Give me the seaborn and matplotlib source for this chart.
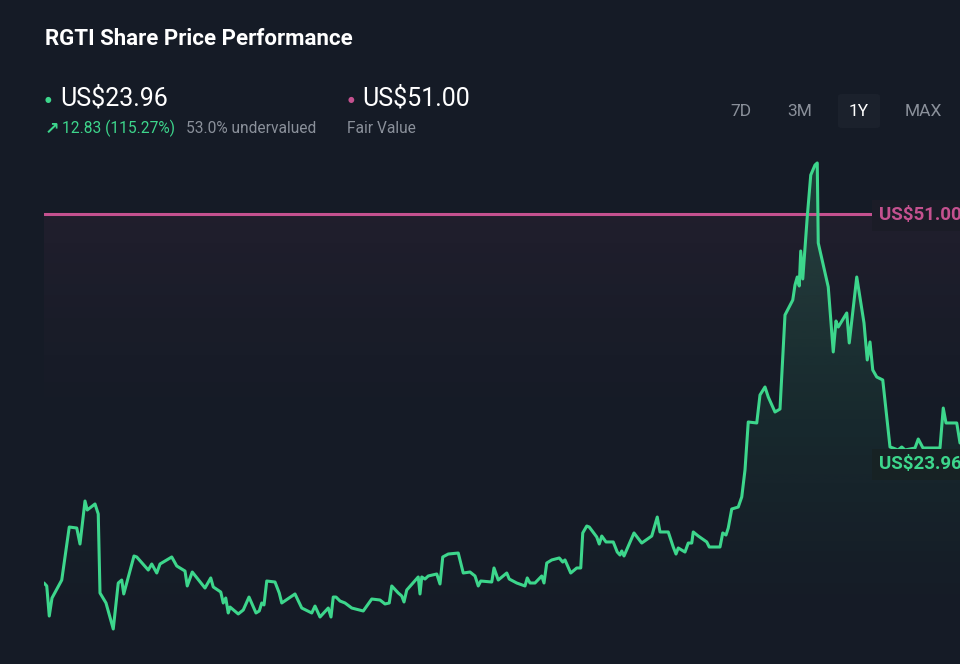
import numpy as np
import pandas as pd
import matplotlib
matplotlib.use("Agg")
import matplotlib.pyplot as plt
from matplotlib.patches import FancyBboxPatch
import seaborn as sns

# ---------------- data ----------------
day = [0, 1.1, 2.1, 3.2, 7.1, 10.1, 13.1, 14.4, 16.4, 17.3, 20.4, 21.7, 22.4, 24.8, 27.7,
       29.7, 31.1, 31.9, 36.0, 37.1, 41.7, 43.1, 45.1, 46.4, 51.1, 53.1, 56.4, 57.3, 59.3,
       64.4, 66.7, 67.7, 70.7, 71.7, 72.7, 73.7, 74.4, 77.7, 79.7, 82.0, 84.8, 86.1, 87.1,
       88.0, 89.1, 92.4, 94.1, 95.1, 100.4, 103.1, 107.1, 108.4, 110.4, 113.7, 114.8, 115.7,
       116.8, 118.4, 120.4, 123.1, 127.7, 131.1, 134.4, 136.4, 138.1, 139.1, 141.7, 143.1,
       144.0, 145.1, 149.7, 150.4, 151.1, 152.4, 153.7, 157.1, 158.4, 159.5, 161.7, 165.7,
       167.7, 170.4, 172.4, 173.7, 174.7, 179.1, 180.0, 181.7, 185.1, 186.1, 189.1, 192.4,
       193.3, 194.4, 196.4, 199.1, 200.0, 201.1, 203.1, 206.1, 207.5, 208.4, 210.7, 213.1,
       214.7, 215.5, 217.1, 218.1, 221.1, 222.1, 223.1, 224.8, 227.7, 229.3, 230.4, 231.1,
       232.0, 236.0, 239.1, 243.1, 245.3, 246.4, 249.7, 251.7, 252.8, 253.7, 256.4, 257.7,
       259.1, 259.7, 261.7, 265.1, 266.1, 270.4, 271.5, 272.8, 273.7, 275.1, 277.7, 279.1,
       280.4, 281.7, 285.1, 286.4, 288.4, 289.7, 292.4, 294.4, 296.4, 299.5, 300.4, 301.3,
       302.1, 302.7, 303.5, 305.3, 306.7, 308.4, 309.3, 309.7, 313.7, 315.7, 316.8, 317.7,
       321.1, 322.1, 325.1, 328.0, 329.3, 330.4, 331.5, 333.1, 335.5, 337.1, 338.4, 339.6,
       341.6, 343.1, 344.4, 348.4, 349.7, 351.6, 353.6, 358.4, 359.7, 360.8, 365.1, 366.4]

price = [10.00, 9.67, 6.33, 8.33, 10.33, 16.22, 16.11, 14.33, 19.11, 18.11, 18.78, 17.67, 8.89,
         7.78, 4.89, 10.00, 10.33, 8.78, 13.00, 12.89, 11.44, 12.11, 11.11, 12.11, 12.89, 11.89,
         11.33, 9.67, 11.22, 9.44, 10.56, 9.56, 9.00, 7.78, 8.33, 6.67, 7.33, 6.56, 7.00, 8.44,
         6.67, 6.89, 7.78, 7.56, 10.22, 10.11, 8.89, 7.78, 8.78, 7.22, 6.67, 7.44, 6.22, 7.22,
         6.22, 8.44, 8.44, 8.00, 7.78, 7.22, 6.89, 8.22, 8.11, 7.67, 7.78, 9.67, 8.89, 8.56,
         7.89, 9.22, 10.67, 8.78, 10.67, 10.44, 10.78, 11.00, 9.89, 12.89, 13.22, 13.33, 11.11,
         11.22, 10.78, 9.67, 10.22, 10.11, 11.67, 10.33, 11.11, 10.44, 10.00, 9.67, 10.56,
         10.00, 10.00, 10.78, 10.00, 12.22, 12.56, 12.78, 12.33, 12.56, 11.11, 11.67, 11.67,
         15.56, 16.33, 16.22, 15.11, 14.33, 15.22, 14.56, 14.56, 13.44, 13.11, 13.56, 13.00,
         15.56, 14.44, 15.22, 17.33, 15.67, 15.67, 14.00, 13.22, 13.89, 13.44, 14.44, 14.44,
         15.67, 15.22, 14.56, 14.00, 14.00, 15.56, 15.33, 16.11, 18.22, 18.44, 19.56, 22.56,
         27.89, 27.78, 30.89, 31.78, 30.67, 29.00, 29.33, 39.78, 41.44, 43.11, 44.00, 43.00,
         46.89, 43.78, 50.67, 55.33, 56.44, 56.67, 47.78, 42.89, 35.67, 39.11, 38.44, 40.00,
         36.67, 44.00, 38.89, 34.78, 36.78, 33.67, 32.89, 32.56, 28.44, 25.11, 25.00, 24.78,
         25.11, 24.78, 25.00, 26.00, 25.00, 25.00, 25.00, 29.44, 27.78, 27.78, 25.56]

fair_value = 51.00
last_price = 23.96
change_abs = 12.83
change_pct = 115.27
undervalued_pct = 53.0
ranges = ["7D", "3M", "1Y", "MAX"]
active_range = "1Y"

df = pd.DataFrame({"day": day, "price": price})

# ---------------- style ----------------
BG = "#151b26"
GREEN = "#3dd68c"
PINK = "#c4518f"
GREY = "#8a909a"

sns.set_theme(style="dark")
plt.rcParams["font.family"] = ["Roboto", "DejaVu Sans"]
plt.rcParams["axes.facecolor"] = BG
plt.rcParams["figure.facecolor"] = BG

W, H = 960, 664
fig = plt.figure(figsize=(W / 100, H / 100), dpi=100)
fig.patch.set_facecolor(BG)


def fx(px):
    return px / W


def fy(py):
    return 1 - py / H


ax = fig.add_axes([fx(44), 0, fx(960) - fx(44), fy(150)])
ax.set_facecolor(BG)
ymin, ymax = 1.0, 58.11
xmax = max(day)
ax.set_xlim(0, xmax)
ax.set_ylim(ymin, ymax)

# fair value gradient band under the line
pink_rgb = matplotlib.colors.to_rgb(PINK)
n = 256
grad = np.zeros((n, 1, 4))
ys = np.linspace(ymax, ymin, n)
alpha_p = np.clip((ys - 26) / (fair_value - 26), 0, 1) ** 1.3 * 0.07
alpha_p[ys > fair_value] = 0
grad[:, 0, :3] = pink_rgb
grad[:, 0, 3] = alpha_p
ax.imshow(grad, extent=[0, xmax, ymin, ymax], aspect="auto", zorder=1, interpolation="bilinear")

# green gradient area under the price line
green_rgb = matplotlib.colors.to_rgb(GREEN)
g = np.zeros((n, 1, 4))
alpha_g = np.clip((ys - 6) / (ymax - 6), 0, 1) ** 1.1 * 0.2
g[:, 0, :3] = green_rgb
g[:, 0, 3] = alpha_g
poly = ax.fill_between(df["day"], df["price"], ymin, color="none", lw=0)
im = ax.imshow(g, extent=[0, xmax, ymin, ymax], aspect="auto", zorder=2, interpolation="bilinear")
path = poly.get_paths()[0]
im.set_clip_path(path, transform=ax.transData)

# fair value line
ax.axhline(fair_value, color=PINK, lw=2.2, zorder=3)

# price line
sns.lineplot(data=df, x="day", y="price", ax=ax, color=GREEN, lw=2.2,
             sort=False, estimator=None, zorder=4)

ax.set_xlabel("")
ax.set_ylabel("")
ax.set_xticks([])
ax.set_yticks([])
for s in ax.spines.values():
    s.set_visible(False)
ax.grid(False)

# right-side value labels
lab_x = (879 - 44) / 916
tr = ax.get_yaxis_transform()
ax.annotate(f"US${fair_value:.2f}", xy=(lab_x, fair_value), xycoords=tr,
            xytext=(0, -1), textcoords="offset points", color=PINK, fontsize=13.5,
            fontweight="bold", va="center", ha="left", zorder=6, annotation_clip=False,
            bbox=dict(boxstyle="square,pad=0.35", fc="#1b1c27", ec="none"))
ax.annotate(f"US${last_price:.2f}", xy=(lab_x, last_price), xycoords=tr,
            xytext=(0, -5), textcoords="offset points", color=GREEN, fontsize=13.5,
            fontweight="bold", va="center", ha="left", zorder=6, annotation_clip=False,
            bbox=dict(boxstyle="square,pad=0.35", fc="#172224", ec="none"))

# ---------------- header ----------------
fig.text(fx(45), fy(45), "RGTI Share Price Performance", color="white", fontsize=16,
         fontweight="bold", va="baseline", ha="left")

fig.text(fx(48), fy(100), "●", color=GREEN, fontsize=5.5, va="center", ha="center")
fig.text(fx(60), fy(106), f"US${last_price:.2f}", color="white", fontsize=18,
         va="baseline", ha="left")
fig.text(fx(45), fy(134), "↗", color=GREEN, fontsize=12.5, va="baseline", ha="left",
         family=["DejaVu Sans"], fontweight="bold")
fig.text(fx(62), fy(133), f"{change_abs:.2f} ({change_pct:.2f}%)", color=GREEN, fontsize=11.2,
         va="baseline", ha="left")
fig.text(fx(186), fy(133), f"{undervalued_pct:.1f}% undervalued", color=GREY, fontsize=11.2,
         va="baseline", ha="left")

fig.text(fx(351), fy(100), "●", color=PINK, fontsize=5.5, va="center", ha="center")
fig.text(fx(362), fy(106), f"US${fair_value:.2f}", color="white", fontsize=18,
         va="baseline", ha="left")
fig.text(fx(347), fy(133), "Fair Value", color=GREY, fontsize=11.2, va="baseline", ha="left")

btn_x = [741, 800, 859, 923]
for name, bx in zip(ranges, btn_x):
    active = name == active_range
    if active:
        fig.patches.append(FancyBboxPatch((fx(bx - 21), fy(128)), fx(42), 34 / H,
                                          boxstyle="round,pad=0,rounding_size=0.004",
                                          transform=fig.transFigure, fc="#1b212c", ec="none",
                                          zorder=0))
    fig.text(fx(bx), fy(116), name, color="white" if active else GREY, fontsize=12.5,
             va="baseline", ha="center")

fig.savefig("out.png", dpi=100, facecolor=BG)
